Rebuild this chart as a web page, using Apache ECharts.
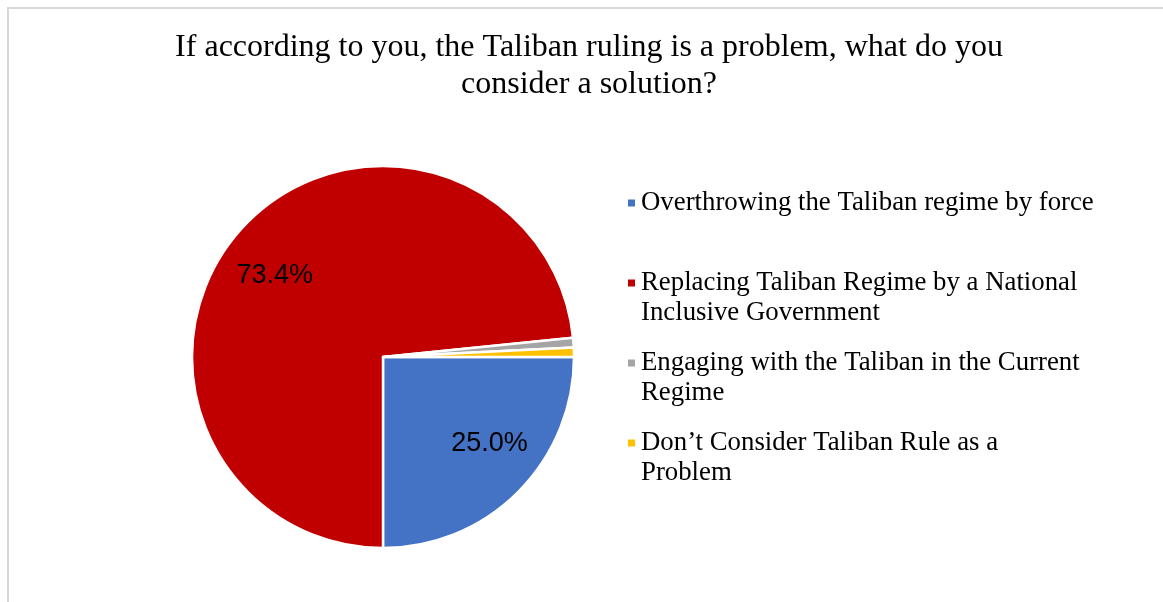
<!DOCTYPE html>
<html>
<head>
<meta charset="utf-8">
<script src="https://cdn.jsdelivr.net/npm/echarts@6/dist/echarts.min.js"></script>
<style>
  html, body { margin: 0; padding: 0; background: #fff; }
  #frame { position: absolute; left: 7px; top: 7px; width: 1156px; height: 595px;
           border-left: 2px solid #d9d9d9; border-top: 2px solid #d9d9d9; box-sizing: border-box; }
  #chart { position: absolute; left: 0; top: 0; width: 1163px; height: 602px; }
</style>
</head>
<body>
<div id="frame"></div>
<div id="chart"></div>
<script>
// Survey answers (percent of respondents)
const titleText = 'If according to you, the Taliban ruling is a problem, what do you\nconsider a solution?';
const categories = [
  'Overthrowing the Taliban regime by force',
  'Replacing Taliban Regime by a National\nInclusive Government',
  'Engaging with the Taliban in the Current\nRegime',
  'Don\u2019t Consider Taliban Rule as a\nProblem'
];
const shares = [25.0, 73.4, 0.8, 0.8];
const colors = ['#4472C4', '#C00000', '#A5A5A5', '#FFC000'];

const labelOffsets = [[10, -10], [-7, 10], [0, 0], [0, 0]];

const chart = echarts.init(document.getElementById('chart'), null, { renderer: 'canvas' });

const sliceData = categories.map((name, i) => ({
  name: name,
  value: shares[i],
  itemStyle: { color: colors[i] }
}));

const labelData = categories.map((name, i) => ({
  name: name,
  value: shares[i],
  label: { show: shares[i] >= 5, offset: labelOffsets[i] }
}));

// Pad every legend entry to three lines so the marker sits level with the first line
function legendText(name) {
  return name.indexOf('\n') >= 0 ? '\n' + name : '\n' + name + '\n';
}

chart.setOption({
  animation: false,
  backgroundColor: 'transparent',
  title: {
    text: titleText,
    left: 589,
    top: 29,
    padding: 0,
    textAlign: 'center',
    textStyle: {
      fontFamily: 'Liberation Serif',
      fontWeight: 'normal',
      fontSize: 32,
      lineHeight: 37,
      color: '#000'
    }
  },
  legend: {
    orient: 'vertical',
    left: 626,
    top: 158,
    padding: 0,
    itemWidth: 9,
    itemHeight: 9,
    itemGap: -10,
    icon: 'rect',
    selectedMode: false,
    data: categories,
    formatter: legendText,
    textStyle: {
      fontFamily: 'Liberation Serif',
      fontSize: 26.8,
      lineHeight: 30,
      color: '#000'
    }
  },
  series: [
    {
      name: 'slices',
      type: 'pie',
      center: [383, 357],
      radius: 191,
      startAngle: 0,
      clockwise: true,
      silent: true,
      label: { show: false },
      labelLine: { show: false },
      itemStyle: { borderColor: '#fff', borderWidth: 2.5 },
      data: sliceData
    },
    {
      name: 'labels',
      type: 'pie',
      center: [383, 357],
      radius: [76, 191],
      startAngle: 0,
      clockwise: true,
      silent: true,
      itemStyle: { color: 'rgba(0,0,0,0)', borderWidth: 0 },
      label: {
        position: 'inside',
        formatter: p => p.value.toFixed(1) + '%',
        fontFamily: 'Liberation Sans',
        fontSize: 27,
        color: '#000'
      },
      labelLine: { show: false },
      data: labelData
    }
  ]
});
</script>
</body>
</html>
